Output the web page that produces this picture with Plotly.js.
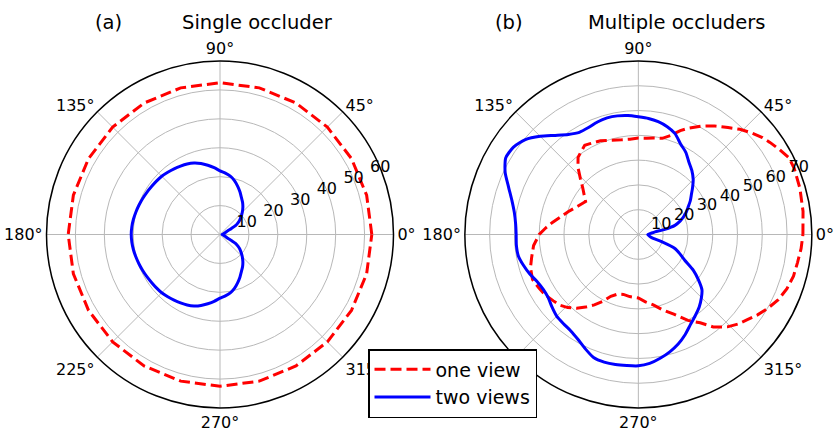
<!DOCTYPE html>
<html>
<head>
<meta charset="utf-8">
<script src="https://cdn.plot.ly/plotly-3.0.1.min.js"></script>
<style>html,body{margin:0;padding:0;background:#fff;}#chart{width:834px;height:434px;}</style>
</head>
<body>
<div id="chart"></div>
<script>
// ---------- data ----------
const seriesNames = ["one view", "two views"];

// (a) Single occluder
const thetaA_one = [0,15,30,45,60,75,90,105,120,135,150,165,180,195,210,225,240,255,270,285,300,315,330,345,360];
const rA_one     = [52.5,52.5,52.5,52.5,52.5,52.5,52.5,52.5,52.5,52.5,52.5,52.5,52.5,52.5,52.5,52.5,52.5,52.5,52.5,52.5,52.5,52.5,52.5,52.5,52.5];

const thetaA_two = [0,10,20,26,28,30,33,36,40,45,50,55,60,65,70,75,80,85,90,95,100,105,110,115,120,125,130,135,140,145,150,155,160,165,170,175,180,
                    185,190,195,200,205,210,215,220,225,230,235,240,245,250,255,260,265,270,275,280,285,290,295,300,305,310,315,320,324,327,330,332,334,340,350,360];
const rA_two     = [0.7,1.2,2.0,3.0,4.5,6.3,7.4,8.4,9.5,10.9,12.3,13.6,14.8,16.3,17.8,19.3,20.5,21.3,22.0,23.2,24.3,25.4,26.3,26.9,27.3,27.7,28.1,28.5,28.7,28.9,29.2,29.5,29.8,30.1,30.4,30.6,30.7,
                    30.6,30.4,30.1,29.8,29.5,29.2,28.9,28.7,28.5,28.1,27.7,27.3,26.9,26.3,25.4,24.3,23.2,22.0,21.3,20.5,19.3,17.8,16.3,14.8,13.6,12.3,10.9,9.5,8.4,7.4,6.3,4.5,3.0,2.0,1.2,0.7];

// (b) Multiple occluders
const thetaB_one = [0,8,16,23,27,31,35,38,42,46,50,55,60,65,68,72,76,81,85,90,95,100,106,112,118,121,125,128,132,136,140,145,148,155,162,167,172,176,180,
                    186,192,197,203,208,213,218,222,226,230,234,238,242,246,251,256,262,270,276,282,288,294,300,305,309,314,318,322,326,330,335,340,345,350,355,360];
const rB_one     = [66.4,67.1,67.8,68.3,68.2,66.5,64.8,63.5,61.3,59.0,56.3,53.5,50.5,47.3,45.2,42.0,40.0,39.4,39.0,38.9,38.6,38.8,39.6,40.8,41.5,42.0,40.5,39.5,36.4,32.5,29.3,26.5,25.1,27.0,29.8,32.0,35.0,37.5,40.0,
                    42.5,44.0,45.5,46.4,45.6,44.8,43.5,42.6,41.0,38.8,36.2,33.5,30.5,27.3,25.4,24.9,25.3,25.6,27.3,29.0,32.0,35.2,40.0,43.5,48.0,51.8,54.0,55.8,58.0,60.0,62.3,63.8,64.8,65.2,65.9,66.4];

const thetaB_two = [0,5,9,11,14,18,21,25,29,33,37,41,45,50,55,60,65,70,75,80,85,90,95,100,105,110,115,120,125,130,135,140,145,150,155,160,165,170,175,180,
                    185,190,195,200,205,210,215,220,225,230,235,240,245,250,255,260,265,270,275,280,285,290,295,300,305,310,315,319,323,327,331,335,339,343,347,352,360];
const rB_two     = [3.8,5.0,6.8,10.9,15.2,17.8,19.4,21.3,23.0,25.0,26.8,29.0,31.3,33.6,35.6,38.3,40.3,43.3,45.0,46.2,47.0,47.5,48.2,48.6,48.7,48.3,47.6,47.6,49.3,52.2,56.0,59.5,61.5,61.8,59.3,55.7,52.8,50.8,49.7,49.3,
                    49.4,49.2,48.0,46.6,45.0,44.3,44.4,45.5,46.6,47.0,47.5,48.8,50.8,52.8,53.3,53.3,53.1,53.0,52.2,50.7,49.0,47.0,44.6,42.0,40.0,38.2,36.0,34.0,30.3,26.4,21.4,18.5,15.8,9.8,5.5,4.5,3.8];

// axes ticks
const radialTicksA = [10,20,30,40,50,60];
const radialTicksB = [10,20,30,40,50,60,70];
const angularTicks = [0,45,90,135,180,225,270,315];
const angularTickText = ["0°","45°","90°","135°","180°","225°","270°","315°"];

const panelLetters = ["(a)", "(b)"];
const panelTitles = ["Single occluder", "Multiple occluders"];

// ---------- styling ----------
const RED = "#ff0000", BLUE = "#0000ff";
const FONT = "DejaVu Sans, Verdana, sans-serif";
const GRID = "#b8b8b8";

function curveTraces(sub, th1, r1, th2, r2, showLeg) {
  return [
    {type:"scatterpolar", subplot:sub, theta:th1, r:r1, mode:"lines", name:seriesNames[0],
     line:{color:RED, width:3, dash:"11px,5px"}, showlegend:showLeg, legendgroup:"one", hoverinfo:"skip"},
    {type:"scatterpolar", subplot:sub, theta:th2, r:r2, mode:"lines", name:seriesNames[1],
     line:{color:BLUE, width:3, shape:"spline", smoothing:0.6}, showlegend:showLeg, legendgroup:"two", hoverinfo:"skip"}
  ];
}
function labelTrace(sub, ticks) {
  return {type:"scatterpolar", subplot:sub, r:ticks, theta:ticks.map(()=>22.5), mode:"text",
    text:ticks.map(String), textposition:"middle center", textfont:{family:FONT, size:16, color:"#000"},
    showlegend:false, hoverinfo:"skip", cliponaxis:false};
}

const data = [
  ...curveTraces("polar", thetaA_one, rA_one, thetaA_two, rA_two, true),
  ...curveTraces("polar2", thetaB_one, rB_one, thetaB_two, rB_two, false),
  labelTrace("polar", radialTicksA),
  labelTrace("polar2", radialTicksB)
];

function polarCfg(xdom, ticks) {
  return {
    domain:{x:xdom, y:[1-408/434, 1-61/434]},
    bgcolor:"#fff",
    radialaxis:{range:[0, ticks[ticks.length-1]], tickvals:ticks, showticklabels:false, ticks:"",
      showline:false, gridcolor:GRID, gridwidth:1, angle:22.5},
    angularaxis:{tickvals:angularTicks, ticktext:angularTickText, direction:"counterclockwise", rotation:0,
      showline:true, linecolor:"#000", linewidth:1.5, gridcolor:GRID, gridwidth:1, ticks:"",
      tickfont:{family:FONT, size:16, color:"#000"}}
  };
}

function ann(text, x) {
  return {text:text, x:x/834, y:1-22/434, xref:"paper", yref:"paper", xanchor:"center", yanchor:"middle",
    showarrow:false, font:{family:FONT, size:19.5, color:"#000"}};
}

const layout = {
  width:834, height:434,
  margin:{l:0, r:0, t:0, b:0},
  paper_bgcolor:"#fff",
  font:{family:FONT, size:16, color:"#000"},
  polar: polarCfg([46/834, 394/834], radialTicksA),
  polar2: polarCfg([464/834, 812.7/834], radialTicksB),
  showlegend:true,
  legend:{x:368/834, y:1-349/434, xanchor:"left", yanchor:"top", bgcolor:"#fff",
    bordercolor:"#000", borderwidth:1.5, font:{family:FONT, size:19, color:"#000"}, traceorder:"normal",
    itemwidth:56, tracegroupgap:0},
  annotations:[
    ann(panelLetters[0], 108),
    ann(panelTitles[0], 257),
    ann(panelLetters[1], 509),
    ann(panelTitles[1], 676)
  ]
};

Plotly.newPlot("chart", data, layout, {displayModeBar:false, staticPlot:true});
</script>
</body>
</html>
